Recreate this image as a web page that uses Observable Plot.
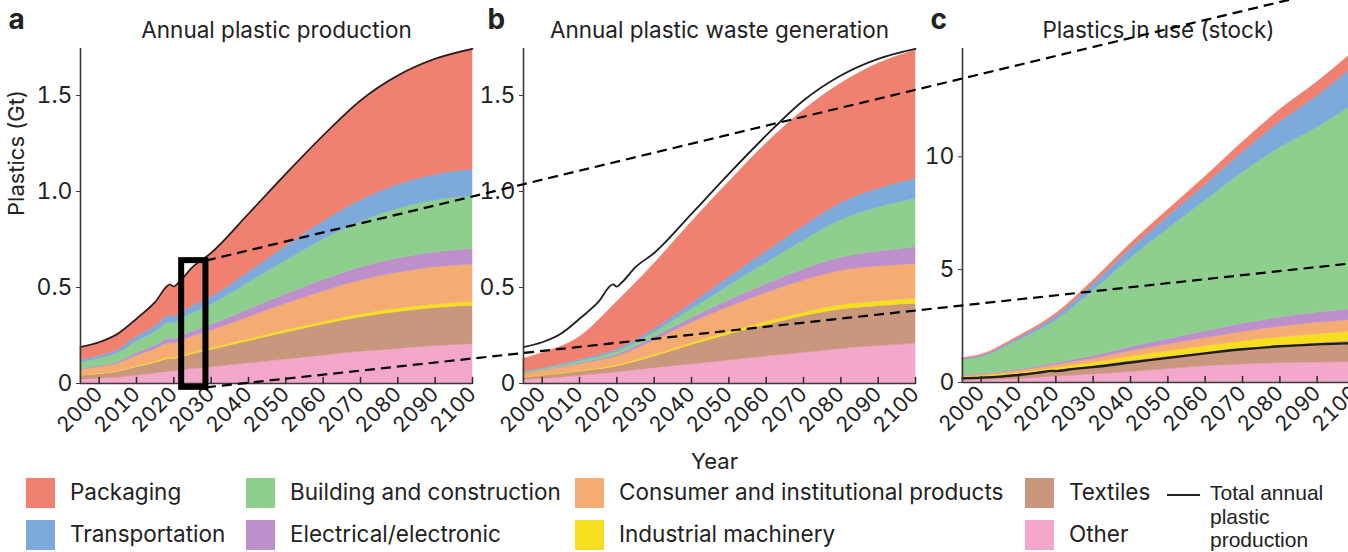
<!DOCTYPE html>
<html>
<head>
<meta charset="utf-8">
<script src="https://cdn.jsdelivr.net/npm/d3@7"></script>
<script src="https://cdn.jsdelivr.net/npm/@observablehq/plot@0.6"></script>
<style>
  html, body { margin: 0; padding: 0; background: #fff; overflow: hidden; }
  #fig { position: relative; width: 1348px; height: 552px; overflow: hidden; }
  #fig > svg { position: absolute; top: 0; }
</style>
</head>
<body>
<div id="fig"></div>
<script>
// Sectors, bottom of the stack first
const sectors = ["Other", "Textiles", "Industrial machinery", "Consumer and institutional products",
  "Electrical/electronic", "Building and construction", "Transportation", "Packaging"];
const sectorColors = ["#f3a7cb", "#c9977e", "#f6df1e", "#f5ac73", "#bd90cb", "#8fcf8e", "#7eaadb", "#f0806f"];

// a — annual plastic production by sector (Gt)
const yearsA = [1995, 2000, 2005, 2010, 2015, 2019, 2020, 2021, 2025, 2030, 2040, 2050, 2060, 2070, 2080, 2090, 2100];
const totalProduction = [0.19, 0.215, 0.259, 0.337, 0.424, 0.516, 0.505, 0.52, 0.606, 0.68, 0.884, 1.092, 1.292, 1.474, 1.604, 1.691, 1.743];
const otherA      = [0.02, 0.025, 0.03, 0.042, 0.052, 0.063, 0.064, 0.066, 0.075, 0.085, 0.105, 0.125, 0.145, 0.165, 0.18, 0.195, 0.205];
const textilesA   = [0.02, 0.024, 0.03, 0.043, 0.055, 0.065, 0.064, 0.066, 0.078, 0.09, 0.115, 0.14, 0.162, 0.18, 0.192, 0.198, 0.2];
const industrialA = [0.002, 0.003, 0.003, 0.004, 0.005, 0.006, 0.006, 0.006, 0.007, 0.008, 0.01, 0.012, 0.014, 0.016, 0.018, 0.019, 0.02];
const consumerA   = [0.03, 0.033, 0.04, 0.054, 0.066, 0.077, 0.075, 0.077, 0.085, 0.092, 0.115, 0.138, 0.158, 0.175, 0.187, 0.193, 0.195];
const electricalA = [0.004, 0.006, 0.008, 0.014, 0.018, 0.022, 0.021, 0.022, 0.026, 0.03, 0.04, 0.05, 0.06, 0.068, 0.074, 0.078, 0.08];
const buildingA   = [0.035, 0.038, 0.045, 0.06, 0.072, 0.085, 0.083, 0.085, 0.095, 0.105, 0.14, 0.175, 0.21, 0.238, 0.258, 0.27, 0.275];
const transportA  = [0.012, 0.014, 0.018, 0.026, 0.03, 0.036, 0.035, 0.036, 0.038, 0.04, 0.055, 0.075, 0.095, 0.112, 0.126, 0.135, 0.14];
const packagingA  = [0.067, 0.072, 0.085, 0.094, 0.126, 0.162, 0.157, 0.162, 0.202, 0.23, 0.304, 0.377, 0.448, 0.52, 0.569, 0.603, 0.628];

// b — annual plastic waste generation by sector (Gt)
const yearsB = [1995, 2000, 2010, 2020, 2030, 2040, 2050, 2060, 2070, 2080, 2090, 2100];
const otherB      = [0.018, 0.024, 0.04, 0.059, 0.08, 0.10, 0.12, 0.14, 0.16, 0.18, 0.195, 0.207];
const textilesB   = [0.012, 0.016, 0.022, 0.03, 0.06, 0.1, 0.135, 0.165, 0.19, 0.205, 0.208, 0.208];
const industrialB = [0.001, 0.002, 0.003, 0.005, 0.008, 0.01, 0.013, 0.016, 0.019, 0.022, 0.024, 0.026];
const consumerB   = [0.02, 0.024, 0.035, 0.046, 0.075, 0.105, 0.13, 0.15, 0.167, 0.18, 0.182, 0.182];
const electricalB = [0.002, 0.003, 0.006, 0.01, 0.018, 0.025, 0.035, 0.046, 0.058, 0.068, 0.078, 0.087];
const buildingB   = [0.005, 0.006, 0.01, 0.015, 0.025, 0.045, 0.075, 0.11, 0.15, 0.195, 0.23, 0.252];
const transportB  = [0.004, 0.005, 0.008, 0.012, 0.018, 0.03, 0.045, 0.06, 0.075, 0.09, 0.098, 0.104];
const packagingB  = [0.066, 0.078, 0.117, 0.246, 0.339, 0.425, 0.495, 0.561, 0.603, 0.621, 0.65, 0.668];

// c — plastics in use (stock) by sector (Gt)
const yearsC = [1995, 2000, 2010, 2020, 2030, 2040, 2050, 2060, 2070, 2080, 2090, 2100];
const otherC      = [0.08, 0.1, 0.16, 0.27, 0.36, 0.46, 0.6, 0.72, 0.8, 0.86, 0.89, 0.9];
const textilesC   = [0.12, 0.14, 0.21, 0.28, 0.38, 0.5, 0.55, 0.61, 0.7, 0.78, 0.86, 0.95];
const industrialC = [0.03, 0.04, 0.06, 0.09, 0.13, 0.18, 0.23, 0.28, 0.32, 0.36, 0.39, 0.4];
const consumerC   = [0.05, 0.06, 0.09, 0.13, 0.18, 0.24, 0.3, 0.36, 0.42, 0.47, 0.51, 0.53];
const electricalC = [0.03, 0.035, 0.05, 0.08, 0.12, 0.18, 0.24, 0.3, 0.36, 0.41, 0.45, 0.48];
const buildingC   = [0.69, 0.745, 1.29, 1.89, 2.88, 3.94, 4.88, 5.78, 6.7, 7.52, 8.2, 9.07];
const transportC  = [0.04, 0.06, 0.1, 0.18, 0.3, 0.42, 0.55, 0.7, 0.9, 1.15, 1.4, 1.7];
const packagingC  = [0.04, 0.05, 0.08, 0.12, 0.16, 0.22, 0.28, 0.36, 0.44, 0.52, 0.6, 0.66];

// Axis ticks
const yearTicks = [2000, 2010, 2020, 2030, 2040, 2050, 2060, 2070, 2080, 2090, 2100];
const flowTicks = [0, 0.5, 1.0, 1.5];
const flowTickLabels = ["0", "0.5", "1.0", "1.5"];
const stockTicks = [0, 5, 10];
const stockTickLabels = ["0", "5", "10"];

// Highlighted window in panel a (year span, Gt) and where its connectors head, in panel c units
const zoomWindow = {from: 2022.1, to: 2028.6, low: -0.02, high: 0.64};
const connectorTargets = [{year: 2098.6, value: 17.6}, {year: 2098.6, value: 5.27}];

// Legend layout: columns of sector names
const legendColumns = [
  ["Packaging", "Transportation"],
  ["Building and construction", "Electrical/electronic"],
  ["Consumer and institutional products", "Industrial machinery"],
  ["Textiles", "Other"]
];
const totalLineLabel = ["Total annual", "plastic", "production"];

const fontFamily = "Inter, 'Liberation Sans', Arial, sans-serif";
const ink = "#222";

// Inward tick: a short stroke pointing up from the baseline
const tickShape = {draw(context, l) { context.moveTo(0, 0); context.lineTo(0, -l); }};

function stackRows(years, series) {
  return sectors.flatMap((s, i) => series[i].map((v, j) => ({year: years[j], sector: s, value: v})));
}
const totalRows = yearsA.map((year, i) => ({year, value: totalProduction[i]}));

function panel(o) {
  return Plot.plot({
    width: o.width, height: 480,
    marginLeft: 80, marginRight: o.marginRight, marginTop: 48, marginBottom: o.marginBottom,
    style: {fontFamily, color: ink, background: "transparent", overflow: "visible"},
    x: {domain: [1995, 2100]},
    y: {domain: [0, o.yMax]},
    color: {domain: sectors, range: sectorColors},
    marks: [
      Plot.areaY(o.rows, {x: "year", y: "value", fill: "sector", stroke: "sector", strokeWidth: 0.5,
        order: sectors, curve: "monotone-x"}),
      Plot.lineY(totalRows, {x: "year", y: "value", stroke: "#1e1e1e", strokeWidth: o.lineWidth, curve: "monotone-x"}),
      Plot.ruleY([0], {stroke: "#3a3a3a", strokeWidth: 1.6}),
      Plot.ruleX([1995], {stroke: "#3a3a3a", strokeWidth: 1.6}),
      Plot.vector(yearTicks, {x: d => d, frameAnchor: "bottom", length: 6, anchor: "start",
        shape: tickShape, fill: "none", stroke: "#2a2a2a", strokeWidth: 1.5}),
      Plot.axisY({ticks: o.yTicks, tickFormat: d => o.yLabels[o.yTicks.indexOf(d)],
        tickSize: 4, tickPadding: 4, fontSize: 23, label: null, stroke: "#3a3a3a"}),
      Plot.axisX({ticks: yearTicks, tickSize: 0, tickPadding: 7, tickRotate: -45,
        tickFormat: d => String(d), fontSize: 21, label: null}),
      Plot.text([o.title], {frameAnchor: "top", dy: -11, lineAnchor: "bottom", fontSize: 22.5}),
      Plot.text([o.letter], {frameAnchor: "top-left", dx: o.letterDx, dy: -20, lineAnchor: "bottom",
        textAnchor: "start", fontSize: 28, fontWeight: "bold"}),
      ...o.extra
    ]
  });
}

const fig = document.getElementById("fig");

const pa = panel({
  rows: stackRows(yearsA, [otherA, textilesA, industrialA, consumerA, electricalA, buildingA, transportA, packagingA]),
  width: 480, marginRight: 8,
  yMax: 1.745, yTicks: flowTicks, yLabels: flowTickLabels, marginBottom: 97, lineWidth: 1.6,
  title: "Annual plastic production", letter: "a", letterDx: -72,
  extra: [
    Plot.text(["Plastics (Gt)"], {frameAnchor: "left", dx: -64, rotate: -90, fontSize: 22}),
    Plot.rect([zoomWindow], {x1: "from", x2: "to", y1: "low", y2: "high", fill: "none", stroke: "#000", strokeWidth: 6})
  ]
});
pa.style.left = "0px";
fig.append(pa);

const pb = panel({
  rows: stackRows(yearsB, [otherB, textilesB, industrialB, consumerB, electricalB, buildingB, transportB, packagingB]),
  width: 480, marginRight: 8,
  yMax: 1.745, yTicks: flowTicks, yLabels: flowTickLabels, marginBottom: 97, lineWidth: 1.8,
  title: "Annual plastic waste generation", letter: "b", letterDx: -36,
  extra: [
    Plot.text(["Year"], {frameAnchor: "bottom", dx: -5, dy: 85, lineAnchor: "bottom", fontSize: 22})
  ]
});
pb.style.left = "443px";
fig.append(pb);

// Panel c runs past the right edge of the figure; its frame ends beyond the svg
const pc = panel({
  rows: stackRows(yearsC, [otherC, textilesC, industrialC, consumerC, electricalC, buildingC, transportC, packagingC]),
  width: 466, marginRight: -6,
  yMax: 14.8, yTicks: stockTicks, yLabels: stockTickLabels, marginBottom: 98, lineWidth: 2.4,
  title: "Plastics in use (stock)", letter: "c", letterDx: -32,
  extra: []
});
pc.style.left = "882px";
fig.append(pc);

// Dashed connectors from the highlighted window in a, heading off to the right
const ax = pa.scale("x"), ay = pa.scale("y");
const cx = pc.scale("x"), cy = pc.scale("y");
const offsetA = 0, offsetC = 882;
const connectors = [
  {x1: offsetA + ax.apply(zoomWindow.to), y1: ay.apply(zoomWindow.high),
   x2: offsetC + cx.apply(connectorTargets[0].year), y2: cy.apply(connectorTargets[0].value)},
  {x1: offsetA + ax.apply(zoomWindow.to), y1: ay.apply(zoomWindow.low),
   x2: offsetC + cx.apply(connectorTargets[1].year), y2: cy.apply(connectorTargets[1].value)}
];
const overlay = Plot.plot({
  width: 1348, height: 552, margin: 0,
  style: {background: "transparent", overflow: "visible"},
  x: {type: "identity"}, y: {type: "identity"},
  marks: [Plot.link(connectors, {x1: "x1", y1: "y1", x2: "x2", y2: "y2", stroke: "#000",
    strokeWidth: 2.2, strokeDasharray: "10,6"})]
});
overlay.style.left = "0px";
overlay.style.pointerEvents = "none";
fig.append(overlay);

// Legend below the panels
const legend = d3.create("svg").attr("width", 1348).attr("height", 79)
  .style("position", "absolute").style("left", "0px").style("top", "472px")
  .style("font-family", fontFamily).style("font-size", "22.5px");
const colX = [26, 246, 575, 1025];
legendColumns.forEach((col, ci) => {
  col.forEach((name, ri) => {
    legend.append("rect").attr("x", colX[ci]).attr("y", 6 + ri * 42).attr("width", 29).attr("height", 30)
      .attr("fill", sectorColors[sectors.indexOf(name)]);
    legend.append("text").attr("x", colX[ci] + 44).attr("y", 28 + ri * 42).attr("fill", ink).text(name);
  });
});
legend.append("line").attr("x1", 1167).attr("x2", 1200).attr("y1", 23).attr("y2", 23)
  .attr("stroke", ink).attr("stroke-width", 2);
totalLineLabel.forEach((t, i) => {
  legend.append("text").attr("x", 1210).attr("y", 28 + i * 23.5)
    .style("font-family", "'Liberation Sans', Arial, sans-serif").style("font-size", "21px")
    .attr("fill", ink).text(t);
});
fig.append(legend.node());
</script>
</body>
</html>
